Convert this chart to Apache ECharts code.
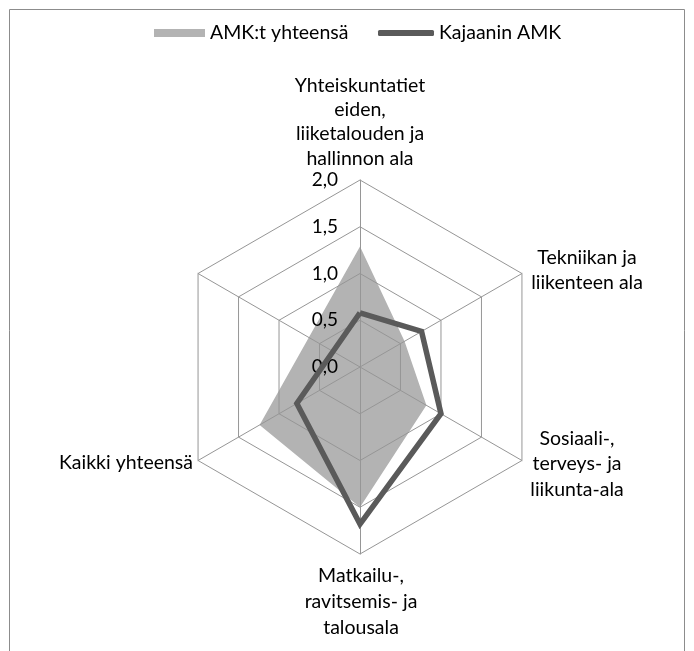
<!DOCTYPE html>
<html>
<head>
<meta charset="utf-8">
<script src="https://cdn.jsdelivr.net/npm/echarts@6/dist/echarts.min.js"></script>
<style>
  html, body { margin: 0; padding: 0; background: #fff; }
  #chart { width: 694px; height: 651px; }
</style>
</head>
<body>
<div id="chart"></div>
<script>
// Categories in clockwise order starting from the top (last one is the unnamed sixth axis)
const categories = [
  'Yhteiskuntatieteiden, liiketalouden ja hallinnon ala',
  'Tekniikan ja liikenteen ala',
  'Sosiaali-, terveys- ja liikunta-ala',
  'Matkailu-, ravitsemis- ja talousala',
  'Kaikki yhteensä',
  ''
];
// Label texts as wrapped in the picture
const categoryLabels = [
  'Yhteiskuntatiet\neiden,\nliiketalouden ja\nhallinnon ala',
  'Tekniikan ja\nliikenteen ala',
  'Sosiaali-,\nterveys- ja\nliikunta-ala',
  'Matkailu-,\nravitsemis- ja\ntalousala',
  'Kaikki yhteensä',
  ''
];
const seriesNames = ['AMK:t yhteensä', 'Kajaanin AMK'];
// values for the first five categories (sixth axis has no value)
const amkYhteensa = [1.29, 0.55, 0.82, 1.50, 1.24];
const kajaaninAmk = [0.58, 0.76, 1.00, 1.68, 0.78];
const axisMax = 2.0;
const axisStep = 0.5;

const FONT = 'Lato, "Open Sans", sans-serif';
const FS = 19.5;
const CX = 360, CY = 367, R = 187;

function closedPolar(values) {
  const pts = values.map((v, i) => [v, categories[i]]);
  pts.push([values[0], categories[0]]);
  return pts;
}

// radar indicators go counterclockwise in ECharts, so reverse after the first
const radarIndicators = [categories[0]].concat(categories.slice(1).reverse())
  .map((n, i) => {
    const ind = { name: n, min: 0, max: axisMax };
    if (i === 0) {
      ind.axisLabel = { show: true, margin: 22, fontFamily: FONT, fontSize: 19, color: '#000',
        padding: [6, 0, 0, 0], formatter: v => Number(v).toFixed(1).replace('.', ',') };
    }
    return ind;
  });

const labelPos = [
  { x: 360, y: 122, align: 'center', lh: 24.4 },
  { x: 587, y: 270, align: 'center', lh: 25 },
  { x: 577, y: 464, align: 'center', lh: 25.5 },
  { x: 361, y: 602, align: 'center', lh: 26 },
  { x: 193, y: 463, align: 'right', lh: 24 }
];

const graphics = [
  { type: 'rect', shape: { x: 9.5, y: 9.5, width: 675, height: 700 },
    style: { fill: 'none', stroke: '#8c8c8c', lineWidth: 1 }, silent: true, z: -10 }
];
categoryLabels.forEach((t, i) => {
  if (!t) return;
  const p = labelPos[i];
  graphics.push({
    type: 'text', x: p.x, y: p.y, z: 10,
    style: { text: t, textAlign: p.align, textVerticalAlign: 'middle',
      font: FS + 'px ' + FONT, lineHeight: p.lh, fill: '#000' }
  });
});

const chart = echarts.init(document.getElementById('chart'), null, { renderer: 'canvas' });
chart.setOption({
  animation: false,
  backgroundColor: '#fff',
  legend: [
    { data: [{ name: seriesNames[0], icon: 'rect' }], left: 149, top: 18, itemWidth: 51, itemHeight: 8,
      textStyle: { fontFamily: FONT, fontSize: FS, color: '#000', lineHeight: 20 }, selectedMode: false },
    { data: [{ name: seriesNames[1], icon: 'roundRect' }], left: 373, top: 18, itemWidth: 56, itemHeight: 6,
      textStyle: { fontFamily: FONT, fontSize: FS, color: '#000', lineHeight: 20 }, selectedMode: false }
  ],
  radar: {
    center: [CX, CY], radius: R, startAngle: 90, splitNumber: 4, shape: 'polygon', z: 3,
    indicator: radarIndicators,
    axisName: { show: false },
    axisLabel: { show: false },
    axisTick: { show: false },
    axisLine: { lineStyle: { color: '#969696', width: 1 } },
    splitLine: { lineStyle: { color: '#969696', width: 1 } },
    splitArea: { show: false }
  },
  polar: { center: [CX, CY], radius: R },
  angleAxis: {
    // band-centred categories over the full circle; start shifted half a band so the first sits at the top
    type: 'category', data: categories, boundaryGap: true, startAngle: 120, clockwise: true,
    axisLine: { show: false }, axisTick: { show: false }, axisLabel: { show: false }, splitLine: { show: false }
  },
  radiusAxis: {
    type: 'value', min: 0, max: axisMax, interval: axisStep,
    axisLine: { show: false }, axisTick: { show: false }, splitLine: { show: false },
    axisLabel: { show: false }
  },
  graphic: graphics,
  series: [
    { name: seriesNames[0], type: 'line', coordinateSystem: 'polar', z: 1, clip: false,
      data: closedPolar(amkYhteensa), showSymbol: false, symbol: 'none',
      itemStyle: { color: '#b3b3b3' },
      lineStyle: { width: 0, color: '#b3b3b3' },
      areaStyle: { color: '#b3b3b3', opacity: 1 }, silent: true },
    { name: seriesNames[1], type: 'line', coordinateSystem: 'polar', z: 5, clip: false,
      data: closedPolar(kajaaninAmk), showSymbol: false, symbol: 'none',
      itemStyle: { color: '#5a5a5a' },
      lineStyle: { width: 5.5, color: '#5a5a5a', join: 'miter' }, silent: true }
  ]
});
</script>
</body>
</html>
